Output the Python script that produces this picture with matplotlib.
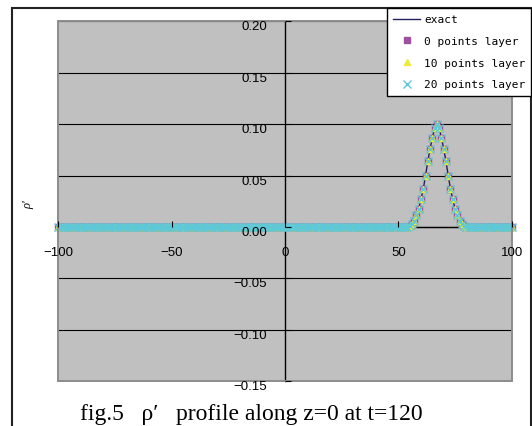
import matplotlib
matplotlib.use('Agg')
import matplotlib.pyplot as plt
from matplotlib.patches import Rectangle
from matplotlib.transforms import ScaledTranslation

# x positions of the sampled profile (one point per unit)
x_vals = list(range(-100, 101))

# the Gaussian-like bump, everything else sits on 0
peak_x = [55, 56, 57, 58, 59, 60, 61, 62, 63, 64, 65, 66, 67,
          68, 69, 70, 71, 72, 73, 74, 75, 76, 77, 78, 79]
peak_y = [0.001, 0.003, 0.006, 0.012, 0.018, 0.027, 0.037, 0.050, 0.064, 0.076, 0.087, 0.096, 0.100,
          0.096, 0.087, 0.076, 0.064, 0.050, 0.037, 0.027, 0.018, 0.012, 0.006, 0.003, 0.001]

peak = dict(zip(peak_x, peak_y))
y_exact = [peak.get(x, 0.0) for x in x_vals]
y_layer0 = list(y_exact)
y_layer10 = list(y_exact)
y_layer20 = list(y_exact)

x_ticks = [-100, -50, 0, 50, 100]
y_ticks = [-0.15, -0.10, -0.05, 0.00, 0.05, 0.10, 0.15, 0.20]

W, H = 532, 427
fig = plt.figure(figsize=(W / 100, H / 100), dpi=100)
fig.patch.set_facecolor('white')

# outer frame of the figure
fig.patches.append(Rectangle((12 / W, -0.05), 519 / W, 1 - 9 / H + 0.05,
                             transform=fig.transFigure, fill=False,
                             edgecolor='#222222', linewidth=1.5, zorder=0))

ax = fig.add_axes([58.3 / W, 1 - 382.3 / H, 453.4 / W, 360 / H])
ax.set_facecolor('#C0C0C0')
ax.set_xlim(-100, 100)
ax.set_ylim(-0.15, 0.20)

# horizontal gridlines
for yv in y_ticks:
    ax.axhline(yv, color='black', linewidth=0.8, zorder=1)

# gray border round the plot area
ax.add_patch(Rectangle((0, 0), 1, 1, transform=ax.transAxes, fill=False,
                       edgecolor='#8C8C8C', linewidth=1.4, zorder=5, clip_on=False))

for side in ['top', 'right']:
    ax.spines[side].set_visible(False)
ax.spines['left'].set_position(('data', 0))
ax.spines['bottom'].set_position(('data', 0))
ax.spines['left'].set_linewidth(1.0)
ax.spines['bottom'].set_linewidth(1.0)

ax.set_xticks(x_ticks)
ax.set_xticklabels(['\u2212100', '\u221250', '0', '50', '100'])
ax.set_yticks(y_ticks)
ax.set_yticklabels(['\u22120.15', '\u22120.10', '\u22120.05', '0.00', '0.05', '0.10', '0.15', '0.20'])
ax.tick_params(axis='x', direction='in', length=4, pad=14, labelsize=9.5)
ax.tick_params(axis='y', direction='in', length=4, pad=13, labelsize=9.5)
for lab in ax.get_xticklabels() + ax.get_yticklabels():
    lab.set_fontfamily('Liberation Sans')
# y labels sit a little below their gridline in the original
shift = ScaledTranslation(0, -2.5 / 72, fig.dpi_scale_trans)
for lab in ax.get_yticklabels():
    lab.set_transform(lab.get_transform() + shift)
ax.xaxis.set_zorder(6)
ax.yaxis.set_zorder(6)

ax.plot(x_vals, y_exact, color='#202060', linewidth=1.0, label='exact', zorder=3)
ax.plot(x_vals, y_layer0, linestyle='none', marker='s', markersize=4.5,
        color='#A050A0', label='0 points layer', zorder=4, clip_on=False)
ax.plot(x_vals, y_layer10, linestyle='none', marker='^', markersize=5,
        color='#ECEC30', label='10 points layer', zorder=4, clip_on=False)
ax.plot(x_vals, y_layer20, linestyle='none', marker='x', markersize=6,
        markeredgewidth=1.0, color='#5EC8D8', label='20 points layer', zorder=4, clip_on=False)

leg = fig.legend(loc='upper left', bbox_to_anchor=(387.3 / W, 1 - 9.3 / H),
                 borderaxespad=0, prop={'family': 'DejaVu Sans Mono', 'size': 8},
                 handlelength=2.4, handletextpad=0.35, borderpad=0.55,
                 labelspacing=1.05, numpoints=1, fancybox=False, framealpha=1,
                 edgecolor='black', markerscale=0.85)
leg.get_frame().set_linewidth(1.0)

fig.text(28 / W, 1 - 205 / H, "\u03c1'", rotation=90, ha='center', va='center',
         fontsize=9, family='Liberation Serif', style='italic')

fig.text(251 / W, 1 - 420 / H, "fig.5   \u03c1\u2032   profile along z=0 at t=120",
         ha='center', va='baseline', fontsize=17, family='Liberation Serif')

fig.savefig('out.png', dpi=100)
